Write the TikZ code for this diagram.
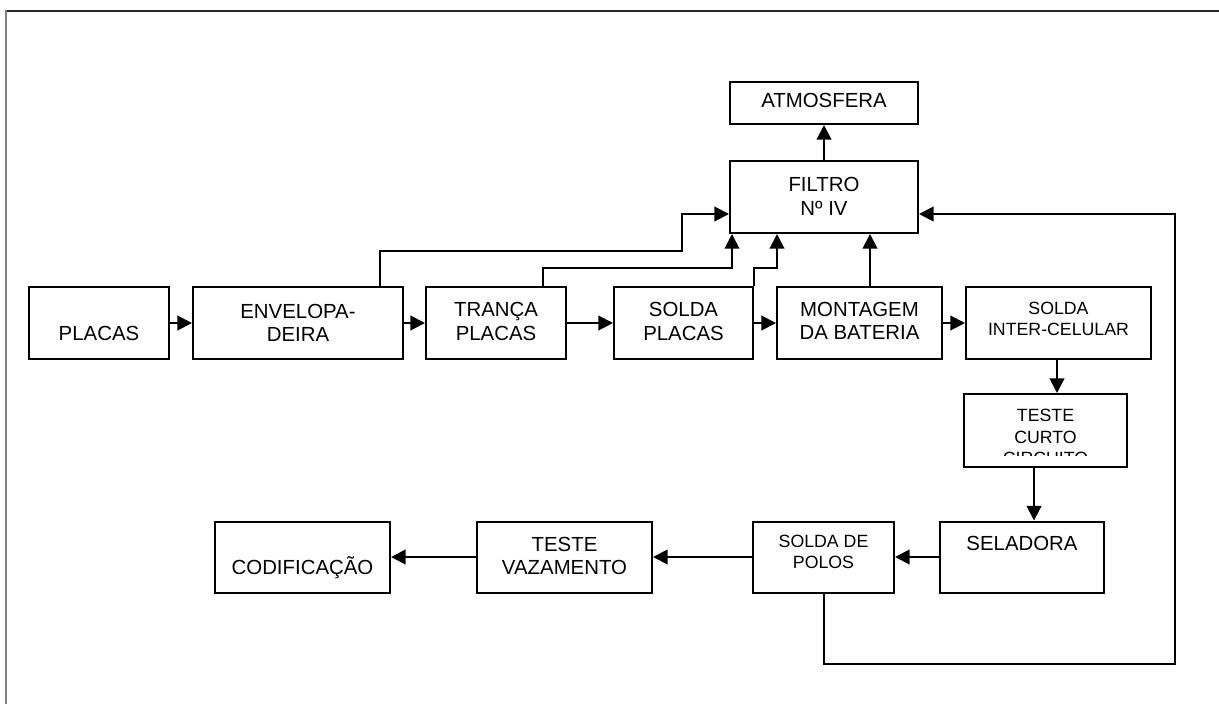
\documentclass[tikz,border=0pt]{standalone}
\usepackage{fontspec}
\setmainfont{Liberation Sans}
\usetikzlibrary{arrows.meta}

\begin{document}
\begin{tikzpicture}[x=0.75pt,y=-0.75pt,
  box/.style 2 args={draw, line width=1.5pt, inner sep=0pt,
    minimum width=#1*0.75pt, minimum height=#2*0.75pt},
  lbl/.style={align=center, inner sep=0pt,
    font=\fontsize{15.3}{17.5}\selectfont},
  sml/.style={align=center, inner sep=0pt,
    font=\fontsize{13.3}{16.2}\selectfont},
  arr/.style={line width=1.5pt, -{Triangle[length=11pt,width=11pt]}}]

\useasboundingbox (0,0) rectangle (1219,704);

% page frame
\draw[black!85, line width=1.5pt] (5,10.5) -- (1219,10.5);
\draw[gray, line width=1.6pt] (6,10) -- (6,704);

% process blocks
\node[box={140}{72}] (placas) at (99,323) {};
\node[box={210}{72}] (env)    at (298,323) {};
\node[box={140}{72}] (tranca) at (496,323) {};
\node[box={139}{72}] (sldpl)  at (683.5,323) {};
\node[box={165}{72}] (mont)   at (859.5,323) {};
\node[box={185}{72}] (inter)  at (1058.5,323) {};
\node[box={188}{72}] (filtro) at (824,197) {};
\node[box={188}{42}] (atm)    at (824,103) {};
\node[box={163}{73}] (curto)  at (1045.5,430.5) {};
\node[box={164}{71}] (selad)  at (1022,557) {};
\node[box={141}{71}] (polos)  at (823.5,557) {};
\node[box={175}{71}] (vaz)    at (564.5,557) {};
\node[box={175}{71}] (cod)    at (302.5,557) {};

% block texts
\node[lbl] (placas-t) at (99,333) {PLACAS};
\node[lbl] (env-t)    at (298,323) {ENVELOPA-\\DEIRA};
\node[lbl] (tranca-t) at (496,321.5) {TRANÇA\\PLACAS};
\node[lbl] (sldpl-t)  at (683.5,321.5) {SOLDA\\PLACAS};
\node[lbl] (mont-t)   at (859.5,321) {MONTAGEM\\DA BATERIA};
\node[sml] (inter-t)  at (1058.5,319) {SOLDA\\INTER-CELULAR};
\node[lbl] (filtro-t) at (824,196.5) {FILTRO\\Nº IV};
\node[lbl] (atm-t)    at (824,100) {ATMOSFERA};
\begin{scope}
  \clip (964,394) rectangle (1127,455);
  \node[sml] (curto-t) at (1045.5,437) {TESTE\\CURTO\\CIRCUITO};
\end{scope}
\node[lbl] (selad-t)  at (1022,543) {SELADORA};
\node[sml] (polos-t)  at (823.5,552) {SOLDA DE\\POLOS};
\node[lbl] (vaz-t)    at (564.5,556) {TESTE\\VAZAMENTO};
\node[lbl] (cod-t)    at (302.5,568) {CODIFICAÇÃO};

% routing points
\coordinate (w1) at (380,251);
\coordinate (w2) at (682,214);
\coordinate (w3) at (543,268);
\coordinate (w4) at (732,268);
\coordinate (w5) at (777,268);
\coordinate (w6) at (870,0);
\coordinate (w7) at (1057,0);
\coordinate (w8) at (1034,0);
\coordinate (w9) at (1175,664);

% main line
\draw[arr] (placas.east) -- (env.west);
\draw[arr] (env.east) -- (tranca.west);
\draw[arr] (tranca.east) -- (sldpl.west);
\draw[arr] (sldpl.east) -- (mont.west);
\draw[arr] (mont.east) -- (inter.west);
\draw[arr] (inter.south -| w7) -- (curto.north -| w7);
\draw[arr] (curto.south -| w8) -- (selad.north -| w8);
\draw[arr] (selad.west) -- (polos.east);
\draw[arr] (polos.west) -- (vaz.east);
\draw[arr] (vaz.west) -- (cod.east);

% exhaust to the filter
\draw[arr] (env.north -| w1) |- (w2 |- w1) -- (w2) -- (filtro.west |- w2);
\draw[arr] (tranca.north -| w3) -- (w3) -- (w4) -- (filtro.south -| w4);
\draw[arr] (sldpl.north east) |- (w5) -- (filtro.south -| w5);
\draw[arr] (mont.north -| w6) -- (filtro.south -| w6);
\draw[arr] (polos.south) |- (w9) |- (filtro.east |- w2);
\draw[arr] (filtro.north) -- (atm.south);

\end{tikzpicture}
\end{document}
